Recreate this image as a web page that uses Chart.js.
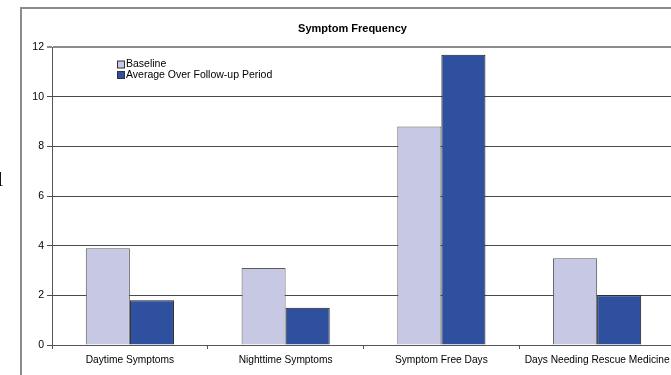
<!DOCTYPE html>
<html>
<head>
<meta charset="utf-8">
<script src="https://cdn.jsdelivr.net/npm/chart.js@4"></script>
<style>
  html, body { margin: 0; padding: 0; background: #fff; overflow: hidden; width: 671px; height: 375px; }
  #wrap { position: absolute; left: 0; top: 0; width: 700px; height: 375px; }
  #stray { position: absolute; left: -3px; top: 166px; font: 22px "Liberation Serif", serif; color: #000; }
</style>
</head>
<body>
<div id="wrap"><canvas id="freq" width="700" height="375"></canvas></div>
<span id="stray">l</span>
<script>
const categories = ['Daytime Symptoms', 'Nighttime Symptoms', 'Symptom Free Days', 'Days Needing Rescue Medicine'];
const baseline = [3.9, 3.1, 8.8, 3.5];
const followUp = [1.8, 1.5, 11.7, 2.0];
const seriesNames = ['Baseline', 'Average Over Follow-up Period'];
const yTicks = [0, 2, 4, 6, 8, 10, 12];

const fontFamily = '"Liberation Sans", Arial, sans-serif';
const lightColor = '#c7c8e3';
const darkColor = '#2f4f9f';

// outer frame + the legend that sits inside the plot
const frameAndLegend = {
    id: 'frameAndLegend',
    beforeDraw(chart) {
        const c = chart.ctx;
        c.save();
        c.strokeStyle = '#8c8c8c';
        c.lineWidth = 2;
        c.strokeRect(21, 8, 700, 400);
        c.restore();
    },
    afterDraw(chart) {
        const c = chart.ctx;
        c.save();
        c.font = '10.5px ' + fontFamily;
        c.textBaseline = 'middle';
        const fills = [lightColor, darkColor];
        seriesNames.forEach(function (name, i) {
            const y = 64.5 + i * 10.5;
            c.fillStyle = fills[i];
            c.fillRect(117.5, y - 3.5, 7, 7);
            c.strokeStyle = '#333';
            c.lineWidth = 1;
            c.strokeRect(117.5, y - 3.5, 7, 7);
            c.fillStyle = '#000';
            c.fillText(name, 126, y);
        });
        c.restore();
    }
};

const ctx = document.getElementById('freq').getContext('2d');
const freqChart = new Chart(ctx, {
    type: 'bar',
    data: {
        labels: categories,
        datasets: [{
            label: seriesNames[0],
            data: baseline,
            backgroundColor: lightColor,
            borderColor: '#5a5a5a',
            borderWidth: 1
        }, {
            label: seriesNames[1],
            data: followUp,
            backgroundColor: darkColor,
            borderColor: '#1a1a1a',
            borderWidth: 1
        }]
    },
    options: {
        responsive: false,
        animation: false,
        categoryPercentage: 0.566,
        barPercentage: 1,
        layout: { padding: { left: 30, right: 25, top: 0, bottom: 0 } },
        plugins: {
            legend: { display: false },
            tooltip: { enabled: false },
            title: {
                display: true,
                text: 'Symptom Frequency',
                color: '#000',
                font: { family: fontFamily, size: 11, weight: 'bold' },
                padding: { top: 22, bottom: 12 }
            }
        },
        scales: {
            x: {
                grid: { offset: true, drawOnChartArea: false, color: '#555', tickLength: 4 },
                border: { color: '#555', width: 1 },
                ticks: { color: '#000', font: { family: fontFamily, size: 10.2 }, padding: 5, maxRotation: 0, autoSkip: false },
                afterFit: function (scale) { scale.height = 30; }
            },
            y: {
                min: 0,
                max: 12,
                afterBuildTicks: function (scale) { scale.ticks = yTicks.map(v => ({ value: v })); },
                grid: {
                    color: c => c.tick && c.tick.value === 12 ? '#8c8c8c' : '#4a4a4a',
                    lineWidth: c => c.tick && c.tick.value === 12 ? 2 : 1,
                    tickLength: 5
                },
                border: { color: '#555', width: 1 },
                ticks: { color: '#000', font: { family: fontFamily, size: 10.5 }, padding: 3 },
                afterFit: function (scale) { scale.width = 22; }
            }
        }
    },
    plugins: [frameAndLegend]
});
</script>
</body>
</html>
